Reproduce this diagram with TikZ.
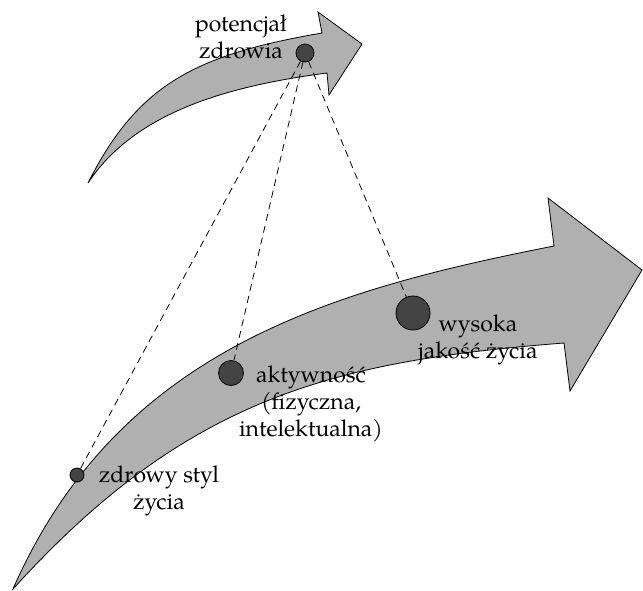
\documentclass[tikz,border=0pt]{standalone}
\usepackage{fontspec}
\setmainfont{TeX Gyre Pagella}
\definecolor{arrowgray}{RGB}{176,176,176}
\definecolor{dotgray}{RGB}{68,68,68}
\tikzstyle{band} = [draw, fill=arrowgray, line width=0.8pt]
\tikzstyle{dot} = [draw, circle, fill=dotgray, inner sep=0pt, line width=0.8pt]
\tikzstyle{desc} = [align=center, anchor=north, inner sep=0pt, font=\fontsize{23}{27}\selectfont]
\tikzstyle{link} = [dash pattern=on 7pt off 5pt, line width=0.8pt]

\begin{document}
\begin{tikzpicture}[x=1pt, y=-1pt]
    \useasboundingbox (0,0) rectangle (643,590);
    % upper arrow
    \filldraw [band] (88,183) .. controls (137.5,85) and (194,55) .. (322,33)
        -- (318,12) -- (362,44) -- (329,95) -- (327,73)
        .. controls (228,86) and (135,112) .. cycle;
    % lower arrow
    \filldraw [band] (13,589) .. controls (118,350) and (330,290) .. (554,246)
        -- (548,198) -- (642,270) -- (570,391) -- (564,343)
        .. controls (334,361) and (187,397) .. cycle;

    \node [dot, minimum size=18pt] (potential) at (305,53) {};
    \node [dot, minimum size=14pt] (lifestyle) at (77,475) {};
    \node [dot, minimum size=25pt] (activity) at (231,373) {};
    \node [dot, minimum size=34pt] (quality) at (413,313) {};

    \draw [link] (potential) -- (lifestyle);
    \draw [link] (potential) -- (activity);
    \draw [link] (potential) -- (quality);

    \node [desc] (potentialtext) at (241,15) {potencjał\\zdrowia};
    \node [desc] (lifestyletext) at (159,466) {zdrowy styl\\życia};
    \node [desc] (activitytext) at (311,366) {aktywność\\(fizyczna,\\intelektualna)};
    \node [desc] (qualitytext) at (478,315) {wysoka\\jakość życia};
\end{tikzpicture}
\end{document}
